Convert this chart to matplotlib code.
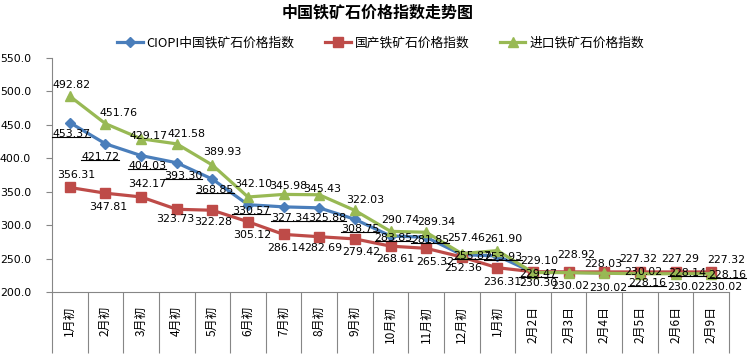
import matplotlib
matplotlib.use("Agg")
import matplotlib.pyplot as plt
from matplotlib.lines import Line2D
from matplotlib.transforms import IdentityTransform
import numpy as np

plt.rcParams['font.family'] = ['DejaVu Sans', 'Noto Sans CJK SC']

# ---------------- data ----------------
categories = ['1月初', '2月初', '3月初', '4月初', '5月初', '6月初', '7月初', '8月初',
              '9月初', '10月初', '11月初', '12月初', '1月初', '2月2日', '2月3日',
              '2月4日', '2月5日', '2月6日', '2月9日']
ciopi = [453.37, 421.72, 404.03, 393.30, 368.85, 330.57, 327.34, 325.88, 308.75,
         283.85, 281.85, 255.87, 253.93, 229.47, 229.26, 228.62, 228.16, 228.14, 228.16]
domestic = [356.31, 347.81, 342.17, 323.73, 322.28, 305.12, 286.14, 282.69, 279.42,
            268.61, 265.32, 252.36, 236.31, 230.30, 230.02, 230.02, 230.02, 230.02, 230.02]
imported = [492.82, 451.76, 429.17, 421.58, 389.93, 342.10, 345.98, 345.43, 322.03,
            290.74, 289.34, 257.46, 261.90, 229.10, 228.92, 228.03, 227.32, 227.29, 227.32]
ciopi_labelled = [True] * 14 + [False, False] + [True] * 3
series_names = ['CIOPI中国铁矿石价格指数', '国产铁矿石价格指数', '进口铁矿石价格指数']
yticks = [200, 250, 300, 350, 400, 450, 500, 550]

# label offsets in image pixels (dx right, dy down)
off_imp = [(2, -11), (13, -11), (7, -3), (10, -10), (10, -13), (5, -13), (5, -8.5),
           (3, -5.6), (10, -10), (9.5, -11.4), (10, -10), (4, -16), (6, -11.4),
           (6, -12), (7.4, -17.7), (-1.3, -9), (-2.2, -15), (4.5, -15), (14.8, -13.4)]
off_cio = [(1.5, 11.3), (-5, 13.4), (6, 10.3), (6.6, 13.1), (2.4, 10.8), (3, 6.2),
           (6.7, 11.4), (8, 10.4), (5.2, 9.9), (3.2, 2.3), (4.2, 2.7), (10, 1.3),
           (6, 1.3), (5.3, 1.7), (0, 0), (0, 0), (7, 10.1), (11.2, -0.5), (15.8, 1.8)]
off_dom = [(6, -12.6), (2.6, 13.4), (6, -13), (-1.7, 9.7), (0.5, 11.4), (3.8, 13.2),
           (2.2, 13.8), (4.1, 11.5), (6, 12.8), (5.2, 13.1), (9, 13.3), (1.6, 11.3),
           (4.6, 14), (5.3, 10.9), (1.4, 14.1), (4, 15.8), (3.4, -0.2), (10.2, 15.4),
           (11.6, 15.4)]

c_blue = '#4A7EBB'
c_red = '#BE4B48'
c_green = '#98B954'
axis_gray = '#868686'

fig = plt.figure(figsize=(7.55, 3.6), dpi=100)
ax = fig.add_axes([52 / 755, 1 - 292 / 360, (729 - 52) / 755, (292 - 58) / 360])

x = np.arange(len(categories))
ax.plot(x, ciopi, color=c_blue, lw=2.3, marker='D', ms=5.5, label=series_names[0], zorder=3)
ax.plot(x, domestic, color=c_red, lw=2.3, marker='s', ms=7, label=series_names[1], zorder=4)
ax.plot(x, imported, color=c_green, lw=2.3, marker='^', ms=7.5, label=series_names[2], zorder=5)

ax.set_xlim(-0.5, len(categories) - 0.5)
ax.set_ylim(200, 550)
ax.set_yticks(yticks)
ax.set_yticklabels([f'{v:.1f}' for v in yticks], fontsize=7.9)
ax.tick_params(axis='y', direction='out', length=4, width=0.8, color=axis_gray, pad=11)

ax.set_xticks(x)
ax.set_xticklabels(categories, rotation=90, fontsize=8.6, family=['Noto Sans CJK SC', 'DejaVu Sans'],
                   va='top', ha='center')
ax.set_xticks(np.arange(-0.5, len(categories) + 0.5, 1.0), minor=True)
ax.tick_params(axis='x', which='major', length=0, pad=10)
ax.tick_params(axis='x', which='minor', length=44, width=0.8, color=axis_gray, direction='out')

for s in ['top', 'right']:
    ax.spines[s].set_visible(False)
for s in ['left', 'bottom']:
    ax.spines[s].set_color(axis_gray)
    ax.spines[s].set_linewidth(0.8)

lab_kw = dict(textcoords='offset pixels', ha='center', va='center', fontsize=7.9,
              color='black', zorder=10, annotation_clip=False)
cio_texts = []
for i in range(len(categories)):
    dx, dy = off_imp[i]
    ax.annotate(f'{imported[i]:.2f}', (x[i], imported[i]), xytext=(dx, -dy), **lab_kw)
    dx, dy = off_dom[i]
    ax.annotate(f'{domestic[i]:.2f}', (x[i], domestic[i]), xytext=(dx, -dy), **lab_kw)
    if ciopi_labelled[i]:
        dx, dy = off_cio[i]
        t = ax.annotate(f'{ciopi[i]:.2f}', (x[i], ciopi[i]), xytext=(dx, -dy), **lab_kw)
        cio_texts.append(t)

fig.text(0.5, 1 - 12 / 360, '中国铁矿石价格指数走势图', ha='center', va='center',
         fontsize=11.5, fontweight='bold', family=['Noto Sans CJK SC', 'DejaVu Sans'])

fig.legend(loc='center', bbox_to_anchor=(0.504, 1 - 43 / 360), ncol=3, frameon=False,
           prop={'family': ['Noto Sans CJK SC', 'DejaVu Sans'], 'size': 9.2},
           handlelength=2.0, handletextpad=0.3, columnspacing=2.4)

# underline the CIOPI labels
fig.canvas.draw()
renderer = fig.canvas.get_renderer()
for t in cio_texts:
    bb = t.get_window_extent(renderer)
    yl = bb.y0 + 1.8
    fig.add_artist(Line2D([bb.x0, bb.x1], [yl, yl], transform=IdentityTransform(),
                          color='black', lw=0.8, zorder=11))

fig.savefig('out.png', dpi=100)
